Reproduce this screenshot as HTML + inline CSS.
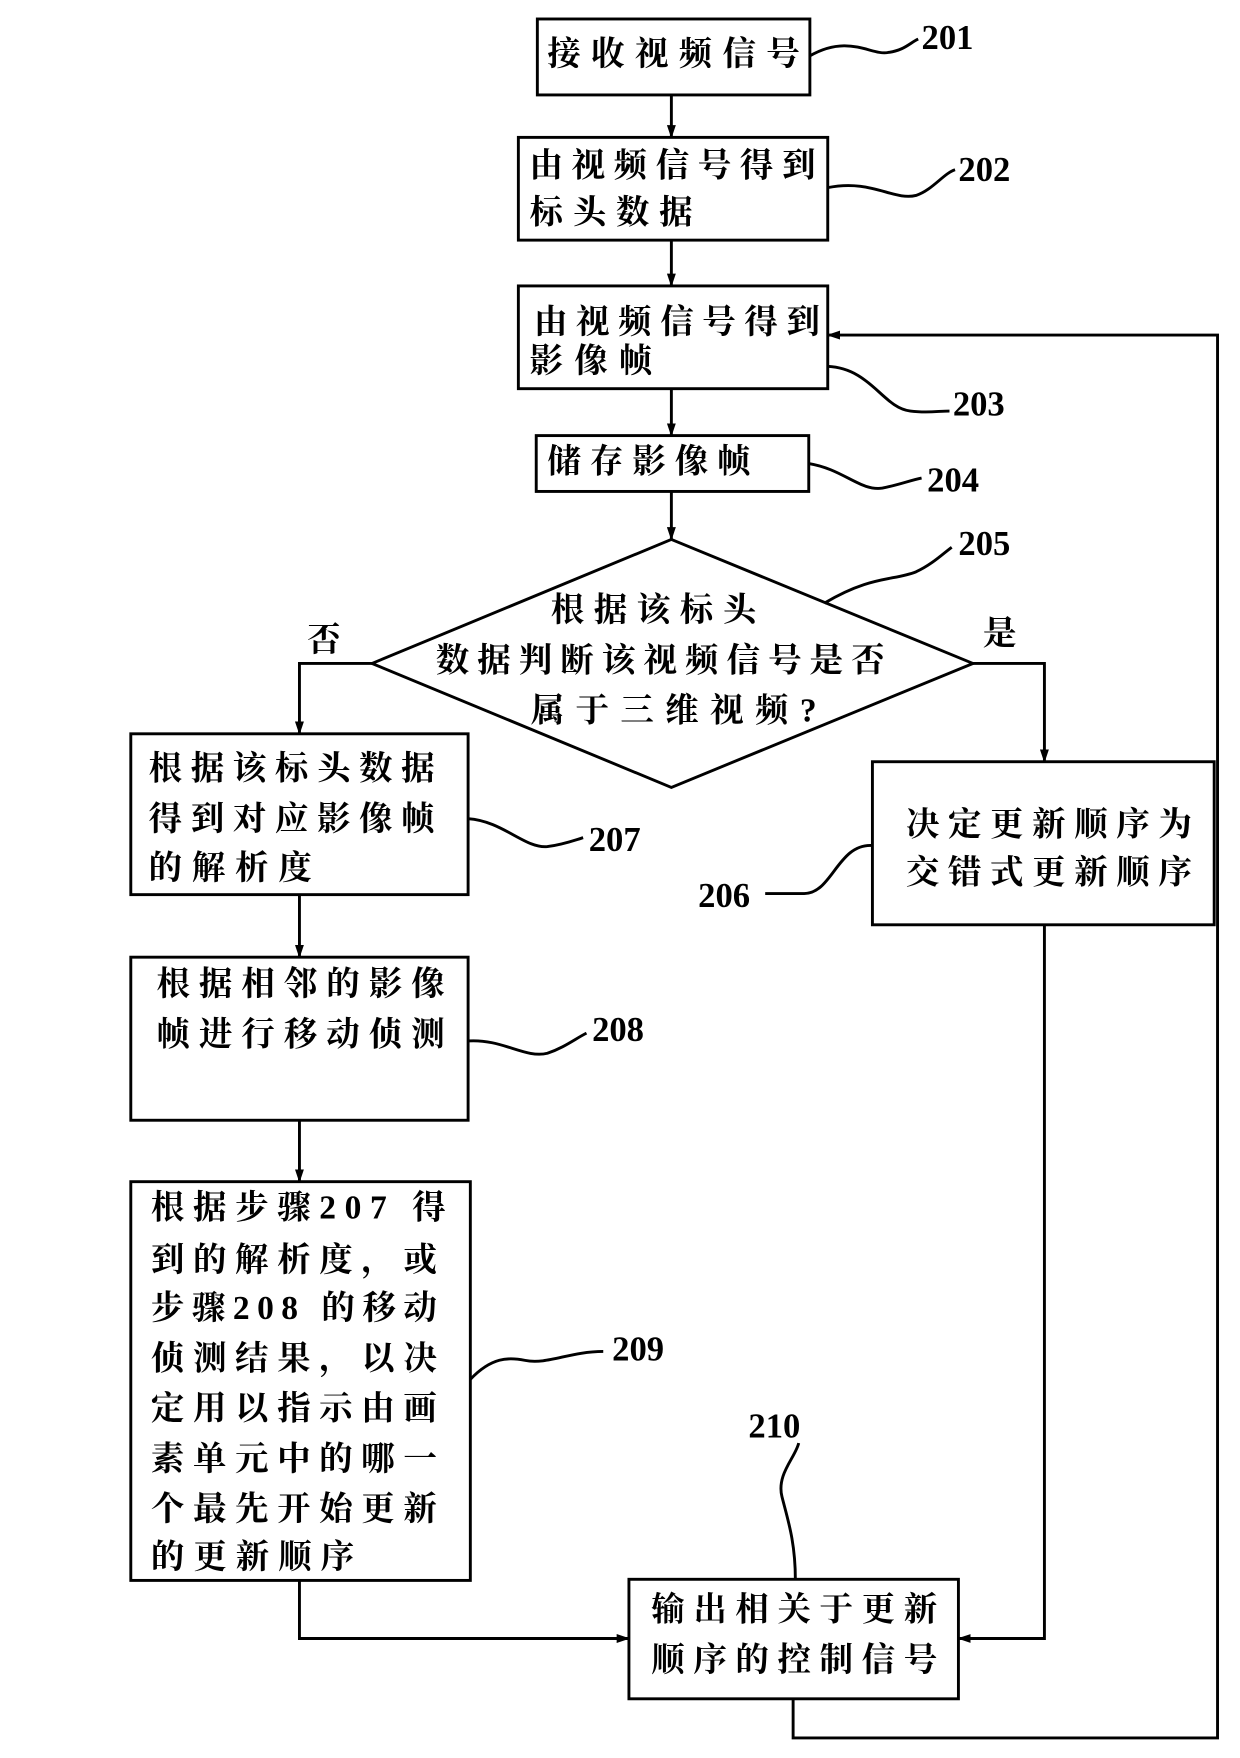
<!DOCTYPE html>
<html><head><meta charset="utf-8"><style>
html,body{margin:0;padding:0;background:#fff;width:1240px;height:1758px;overflow:hidden}
svg{display:block}
text{font-family:"Liberation Serif","Noto Serif CJK SC",serif;font-weight:bold;font-size:30px;fill:#000}
.n{font-size:31px}
</style></head><body>
<svg width="1240" height="1758" viewBox="0 0 1110 1574" xmlns="http://www.w3.org/2000/svg">
<defs><marker id="a" markerWidth="12" markerHeight="8" refX="11" refY="4" orient="auto" markerUnits="userSpaceOnUse"><path d="M0,0 L12,4 L0,8 Z" fill="#000"/></marker></defs>
<g fill="none" stroke="#000" stroke-width="2.6">
<rect x="481" y="17" width="244" height="68"/>
<rect x="464" y="123" width="277" height="92"/>
<rect x="464" y="256" width="277" height="92"/>
<rect x="480" y="390" width="244" height="50"/>
<polygon points="601,483 871,594 601,705 333,594"/>
<rect x="781" y="682" width="306" height="146"/>
<rect x="117" y="657" width="302" height="144"/>
<rect x="117" y="857" width="302" height="146"/>
<rect x="117" y="1058" width="304" height="357"/>
<rect x="563" y="1414" width="295" height="107"/>
<g marker-end="url(#a)">
<path d="M601,85 V123"/><path d="M601,215 V256"/><path d="M601,348 V390"/><path d="M601,440 V483"/>
<path d="M333,594 H268 V657"/><path d="M871,594 H935 V682"/>
<path d="M268,801 V857"/><path d="M268,1003 V1058"/>
<path d="M268,1415 V1467 H563"/><path d="M935,828 V1467 H858"/>
<path d="M710,1521 V1556 H1090 V300 H741"/>
</g>
<path d="M725,50 C760,30 780,50 795,47 C810,45 815,38 822,35"/>
<path d="M741,168 C780,160 800,180 820,175 C835,170 845,155 855,152"/>
<path d="M741,328 C780,330 790,365 815,368 C830,370 840,368 850,368"/>
<path d="M724,415 C755,420 770,440 790,437 C805,434 815,430 825,428"/>
<path d="M738,540 C780,515 800,520 820,512 C835,505 845,495 852,490"/>
<path d="M781,757 C750,755 745,800 720,800 C705,800 695,800 685,800"/>
<path d="M419,733 C450,735 470,760 490,758 C505,756 515,752 522,750"/>
<path d="M419,932 C450,930 470,948 490,943 C505,938 515,930 525,925"/>
<path d="M421,1235 C440,1215 455,1215 470,1218 C490,1222 510,1210 540,1210"/>
<path d="M712,1414 C712,1380 705,1360 700,1340 C695,1320 712,1305 715,1292"/>
</g>
<text class="n" x="825" y="44">201</text>
<text class="n" x="858" y="162">202</text>
<text class="n" x="853" y="372">203</text>
<text class="n" x="830" y="440">204</text>
<text class="n" x="858" y="497">205</text>
<text class="n" x="625" y="812">206</text>
<text class="n" x="527" y="762">207</text>
<text class="n" x="530" y="932">208</text>
<text class="n" x="548" y="1218">209</text>
<text class="n" x="670" y="1287">210</text>
<text x="275" y="583">否</text>
<text x="880" y="577">是</text>
<text x="490" y="58" textLength="226">接收视频信号</text>
<text x="474" y="158" textLength="256">由视频信号得到</text>
<text x="474" y="200" textLength="146">标头数据</text>
<text x="478" y="298" textLength="256">由视频信号得到</text>
<text x="474" y="333" textLength="110">影像帧</text>
<text x="490" y="423" textLength="182">储存影像帧</text>
<text x="493" y="556" textLength="184">根据该标头</text>
<text x="390" y="601" textLength="402">数据判断该视频信号是否</text>
<text x="475" y="646" textLength="256">属于三维视频?</text>
<text x="811" y="748" textLength="256">决定更新顺序为</text>
<text x="811" y="791" textLength="256">交错式更新顺序</text>
<text x="133" y="698" textLength="256">根据该标头数据</text>
<text x="133" y="743" textLength="256">得到对应影像帧</text>
<text x="133" y="787" textLength="146">的解析度</text>
<text x="140" y="891" textLength="258">根据相邻的影像</text>
<text x="140" y="936" textLength="258">帧进行移动侦测</text>
<text x="135" y="1091" textLength="264">根据步骤207 得</text>
<text x="135" y="1138" textLength="256">到的解析度，或</text>
<text x="135" y="1181" textLength="256">步骤208 的移动</text>
<text x="135" y="1226" textLength="256">侦测结果，以决</text>
<text x="135" y="1271" textLength="256">定用以指示由画</text>
<text x="135" y="1316" textLength="256">素单元中的哪一</text>
<text x="135" y="1361" textLength="256">个最先开始更新</text>
<text x="135" y="1404" textLength="182">的更新顺序</text>
<text x="583" y="1451" textLength="256">输出相关于更新</text>
<text x="583" y="1496" textLength="256">顺序的控制信号</text>
</svg>
</body></html>
